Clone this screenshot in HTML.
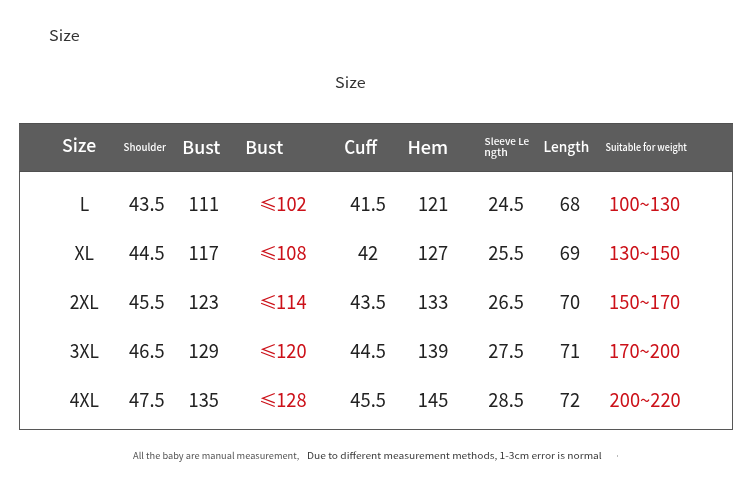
<!DOCTYPE html>
<html><head><meta charset="utf-8"><title>Size</title>
<style>html,body{margin:0;padding:0;background:#fff;width:750px;height:482px;overflow:hidden}svg{display:block}</style>
</head><body>
<svg width="750" height="482" viewBox="0 0 750 482">
<rect width="750" height="482" fill="#fff"/>
<rect x="19" y="123" width="714" height="49" fill="#5d5d5d"/>
<rect x="19" y="123" width="714" height="1" fill="#505050"/>
<rect x="19" y="171" width="714" height="1" fill="#505050"/>
<rect x="19" y="172" width="1" height="258" fill="#575757"/>
<rect x="732" y="172" width="1" height="258" fill="#575757"/>
<rect x="19" y="429" width="714" height="1" fill="#575757"/>
<rect x="617" y="455" width="1" height="2" fill="#bbb"/>
<text transform="translate(49.09 40.80) scale(1.0827 1)" font-size="14.93" font-weight="400" fill="#333" style="font-family:'Noto Sans CJK SC', sans-serif">Size</text>
<text transform="translate(335.09 87.80) scale(1.0927 1)" font-size="14.79" font-weight="400" fill="#333" style="font-family:'Noto Sans CJK SC', sans-serif">Size</text>
<text transform="translate(61.92 151.90) scale(0.9909 1)" font-size="17.84" font-weight="500" fill="#ffffff" style="font-family:'Noto Sans CJK SC', sans-serif">Size</text>
<text transform="translate(123.62 150.80) scale(0.9570 1)" font-size="10.14" font-weight="500" fill="#ffffff" style="font-family:'Noto Sans CJK SC', sans-serif">Shoulder</text>
<text transform="translate(182.32 153.80) scale(1.0195 1)" font-size="17.43" font-weight="500" fill="#ffffff" style="font-family:'Noto Sans CJK SC', sans-serif">Bust</text>
<text transform="translate(245.23 153.80) scale(1.0167 1)" font-size="17.43" font-weight="500" fill="#ffffff" style="font-family:'Noto Sans CJK SC', sans-serif">Bust</text>
<text transform="translate(344.18 153.90) scale(0.9459 1)" font-size="17.97" font-weight="500" fill="#ffffff" style="font-family:'Noto Sans CJK SC', sans-serif">Cuff</text>
<text transform="translate(407.38 153.80) scale(1.0420 1)" font-size="17.43" font-weight="500" fill="#ffffff" style="font-family:'Noto Sans CJK SC', sans-serif">Hem</text>
<text transform="translate(484.60 144.80) scale(1.0858 1)" font-size="9.19" font-weight="500" fill="#ffffff" style="font-family:'Noto Sans CJK SC', sans-serif">Sleeve Le</text>
<text transform="translate(484.25 156.20) scale(1.1519 1)" font-size="9.19" font-weight="500" fill="#ffffff" style="font-family:'Noto Sans CJK SC', sans-serif">ngth</text>
<text transform="translate(543.53 151.90) scale(0.9485 1)" font-size="14.46" font-weight="500" fill="#ffffff" style="font-family:'Noto Sans CJK SC', sans-serif">Length</text>
<text transform="translate(605.45 150.90) scale(0.9142 1)" font-size="9.86" font-weight="500" fill="#ffffff" style="font-family:'Noto Sans CJK SC', sans-serif">Suitable for weight</text>
<text transform="translate(133.11 458.50) scale(1.0403 1)" font-size="8.90" font-weight="400" fill="#555" style="font-family:'Noto Sans CJK SC', sans-serif">All the baby are manual measurement,</text>
<text transform="translate(306.98 458.70) scale(1.1657 1)" font-size="8.77" font-weight="400" fill="#3a3a3a" style="font-family:'Noto Sans CJK SC', sans-serif">Due to different measurement methods, 1-3cm error is normal</text>
<text transform="translate(79.68 211.00) scale(0.9100 1)" font-size="19.18" font-weight="400" fill="#222" style="font-family:'Noto Sans CJK SC', sans-serif">L</text>
<text transform="translate(129.11 211.00) scale(0.9550 1)" font-size="19.18" font-weight="400" fill="#222" style="font-family:'Noto Sans CJK SC', sans-serif">43.5</text>
<text transform="translate(188.62 211.00) scale(0.9550 1)" font-size="19.18" font-weight="400" fill="#222" style="font-family:'Noto Sans CJK SC', sans-serif">111</text>
<text transform="translate(259.09 210.78) scale(1.0636 1)" font-size="17.20" font-weight="400" fill="#cc1119" style="font-family:'Noto Sans CJK SC', sans-serif">≤</text>
<text transform="translate(276.23 211.00) scale(0.9550 1)" font-size="19.18" font-weight="400" fill="#cc1119" style="font-family:'Noto Sans CJK SC', sans-serif">102</text>
<text transform="translate(350.31 211.00) scale(0.9550 1)" font-size="19.18" font-weight="400" fill="#222" style="font-family:'Noto Sans CJK SC', sans-serif">41.5</text>
<text transform="translate(417.92 211.00) scale(0.9550 1)" font-size="19.18" font-weight="400" fill="#222" style="font-family:'Noto Sans CJK SC', sans-serif">121</text>
<text transform="translate(488.33 211.00) scale(0.9550 1)" font-size="19.18" font-weight="400" fill="#222" style="font-family:'Noto Sans CJK SC', sans-serif">24.5</text>
<text transform="translate(559.74 211.00) scale(0.9550 1)" font-size="19.18" font-weight="400" fill="#222" style="font-family:'Noto Sans CJK SC', sans-serif">68</text>
<text transform="translate(609.11 211.00) scale(0.9550 1)" font-size="19.18" font-weight="400" fill="#cc1119" style="font-family:'Noto Sans CJK SC', sans-serif">100~130</text>
<text transform="translate(74.61 260.00) scale(0.9100 1)" font-size="19.18" font-weight="400" fill="#222" style="font-family:'Noto Sans CJK SC', sans-serif">XL</text>
<text transform="translate(129.11 260.00) scale(0.9550 1)" font-size="19.18" font-weight="400" fill="#222" style="font-family:'Noto Sans CJK SC', sans-serif">44.5</text>
<text transform="translate(188.44 260.00) scale(0.9550 1)" font-size="19.18" font-weight="400" fill="#222" style="font-family:'Noto Sans CJK SC', sans-serif">117</text>
<text transform="translate(259.09 259.78) scale(1.0636 1)" font-size="17.20" font-weight="400" fill="#cc1119" style="font-family:'Noto Sans CJK SC', sans-serif">≤</text>
<text transform="translate(276.14 260.00) scale(0.9550 1)" font-size="19.18" font-weight="400" fill="#cc1119" style="font-family:'Noto Sans CJK SC', sans-serif">108</text>
<text transform="translate(357.91 260.00) scale(0.9550 1)" font-size="19.18" font-weight="400" fill="#222" style="font-family:'Noto Sans CJK SC', sans-serif">42</text>
<text transform="translate(417.74 260.00) scale(0.9550 1)" font-size="19.18" font-weight="400" fill="#222" style="font-family:'Noto Sans CJK SC', sans-serif">127</text>
<text transform="translate(488.33 260.00) scale(0.9550 1)" font-size="19.18" font-weight="400" fill="#222" style="font-family:'Noto Sans CJK SC', sans-serif">25.5</text>
<text transform="translate(559.74 260.00) scale(0.9550 1)" font-size="19.18" font-weight="400" fill="#222" style="font-family:'Noto Sans CJK SC', sans-serif">69</text>
<text transform="translate(609.11 260.00) scale(0.9550 1)" font-size="19.18" font-weight="400" fill="#cc1119" style="font-family:'Noto Sans CJK SC', sans-serif">130~150</text>
<text transform="translate(69.64 309.00) scale(0.9100 1)" font-size="19.18" font-weight="400" fill="#222" style="font-family:'Noto Sans CJK SC', sans-serif">2XL</text>
<text transform="translate(129.11 309.00) scale(0.9550 1)" font-size="19.18" font-weight="400" fill="#222" style="font-family:'Noto Sans CJK SC', sans-serif">45.5</text>
<text transform="translate(188.53 309.00) scale(0.9550 1)" font-size="19.18" font-weight="400" fill="#222" style="font-family:'Noto Sans CJK SC', sans-serif">123</text>
<text transform="translate(259.09 308.78) scale(1.0636 1)" font-size="17.20" font-weight="400" fill="#cc1119" style="font-family:'Noto Sans CJK SC', sans-serif">≤</text>
<text transform="translate(276.05 309.00) scale(0.9550 1)" font-size="19.18" font-weight="400" fill="#cc1119" style="font-family:'Noto Sans CJK SC', sans-serif">114</text>
<text transform="translate(350.31 309.00) scale(0.9550 1)" font-size="19.18" font-weight="400" fill="#222" style="font-family:'Noto Sans CJK SC', sans-serif">43.5</text>
<text transform="translate(417.83 309.00) scale(0.9550 1)" font-size="19.18" font-weight="400" fill="#222" style="font-family:'Noto Sans CJK SC', sans-serif">133</text>
<text transform="translate(488.33 309.00) scale(0.9550 1)" font-size="19.18" font-weight="400" fill="#222" style="font-family:'Noto Sans CJK SC', sans-serif">26.5</text>
<text transform="translate(559.74 309.00) scale(0.9550 1)" font-size="19.18" font-weight="400" fill="#222" style="font-family:'Noto Sans CJK SC', sans-serif">70</text>
<text transform="translate(609.11 309.00) scale(0.9550 1)" font-size="19.18" font-weight="400" fill="#cc1119" style="font-family:'Noto Sans CJK SC', sans-serif">150~170</text>
<text transform="translate(69.73 358.00) scale(0.9100 1)" font-size="19.18" font-weight="400" fill="#222" style="font-family:'Noto Sans CJK SC', sans-serif">3XL</text>
<text transform="translate(129.11 358.00) scale(0.9550 1)" font-size="19.18" font-weight="400" fill="#222" style="font-family:'Noto Sans CJK SC', sans-serif">46.5</text>
<text transform="translate(188.53 358.00) scale(0.9550 1)" font-size="19.18" font-weight="400" fill="#222" style="font-family:'Noto Sans CJK SC', sans-serif">129</text>
<text transform="translate(259.09 357.78) scale(1.0636 1)" font-size="17.20" font-weight="400" fill="#cc1119" style="font-family:'Noto Sans CJK SC', sans-serif">≤</text>
<text transform="translate(276.14 358.00) scale(0.9550 1)" font-size="19.18" font-weight="400" fill="#cc1119" style="font-family:'Noto Sans CJK SC', sans-serif">120</text>
<text transform="translate(350.31 358.00) scale(0.9550 1)" font-size="19.18" font-weight="400" fill="#222" style="font-family:'Noto Sans CJK SC', sans-serif">44.5</text>
<text transform="translate(417.83 358.00) scale(0.9550 1)" font-size="19.18" font-weight="400" fill="#222" style="font-family:'Noto Sans CJK SC', sans-serif">139</text>
<text transform="translate(488.33 358.00) scale(0.9550 1)" font-size="19.18" font-weight="400" fill="#222" style="font-family:'Noto Sans CJK SC', sans-serif">27.5</text>
<text transform="translate(559.92 358.00) scale(0.9550 1)" font-size="19.18" font-weight="400" fill="#222" style="font-family:'Noto Sans CJK SC', sans-serif">71</text>
<text transform="translate(609.11 358.00) scale(0.9550 1)" font-size="19.18" font-weight="400" fill="#cc1119" style="font-family:'Noto Sans CJK SC', sans-serif">170~200</text>
<text transform="translate(69.81 407.00) scale(0.9100 1)" font-size="19.18" font-weight="400" fill="#222" style="font-family:'Noto Sans CJK SC', sans-serif">4XL</text>
<text transform="translate(129.11 407.00) scale(0.9550 1)" font-size="19.18" font-weight="400" fill="#222" style="font-family:'Noto Sans CJK SC', sans-serif">47.5</text>
<text transform="translate(188.53 407.00) scale(0.9550 1)" font-size="19.18" font-weight="400" fill="#222" style="font-family:'Noto Sans CJK SC', sans-serif">135</text>
<text transform="translate(259.09 406.78) scale(1.0636 1)" font-size="17.20" font-weight="400" fill="#cc1119" style="font-family:'Noto Sans CJK SC', sans-serif">≤</text>
<text transform="translate(276.14 407.00) scale(0.9550 1)" font-size="19.18" font-weight="400" fill="#cc1119" style="font-family:'Noto Sans CJK SC', sans-serif">128</text>
<text transform="translate(350.31 407.00) scale(0.9550 1)" font-size="19.18" font-weight="400" fill="#222" style="font-family:'Noto Sans CJK SC', sans-serif">45.5</text>
<text transform="translate(417.83 407.00) scale(0.9550 1)" font-size="19.18" font-weight="400" fill="#222" style="font-family:'Noto Sans CJK SC', sans-serif">145</text>
<text transform="translate(488.33 407.00) scale(0.9550 1)" font-size="19.18" font-weight="400" fill="#222" style="font-family:'Noto Sans CJK SC', sans-serif">28.5</text>
<text transform="translate(559.74 407.00) scale(0.9550 1)" font-size="19.18" font-weight="400" fill="#222" style="font-family:'Noto Sans CJK SC', sans-serif">72</text>
<text transform="translate(609.57 407.00) scale(0.9550 1)" font-size="19.18" font-weight="400" fill="#cc1119" style="font-family:'Noto Sans CJK SC', sans-serif">200~220</text>
</svg>
</body></html>
